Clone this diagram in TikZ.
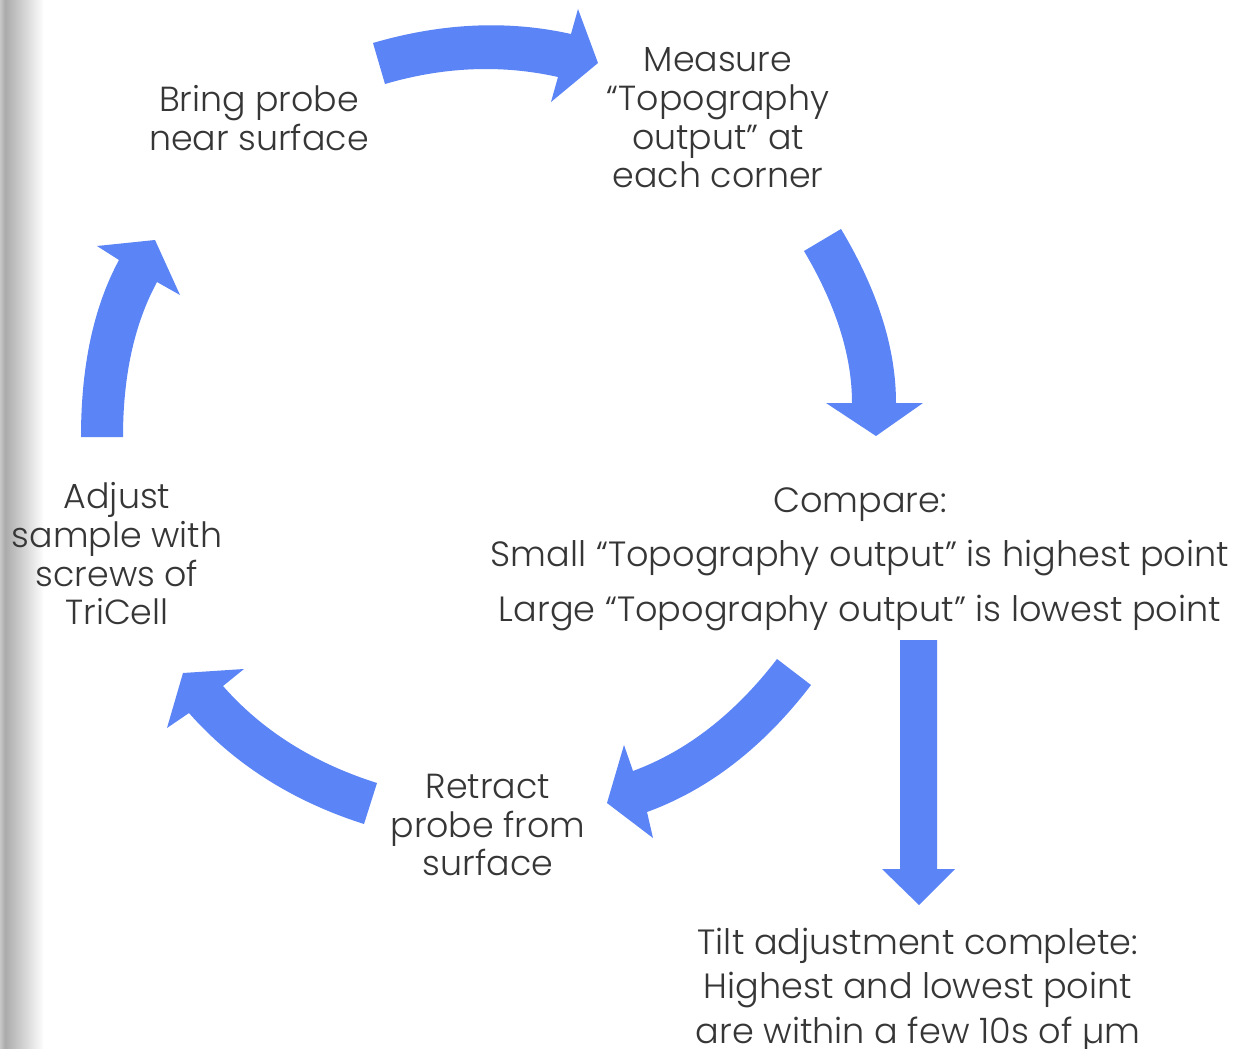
\documentclass[tikz,border=0pt]{standalone}
\usepackage{fontspec}
\setmainfont{Poppins}[UprightFont=* Light]
\definecolor{flow}{HTML}{5B84F6}
\definecolor{ink}{HTML}{363636}
\tikzset{
  blockarrow/.style={fill=flow, draw=none},
  label/.style={text=ink, align=center, inner sep=0pt,
    font=\fontsize{26.1}{29}\selectfont},
}
\begin{document}
\begin{tikzpicture}[x=0.75pt, y=-0.75pt]
\useasboundingbox (0,0) rectangle (1235,1049);
\fill[white] (0,0) rectangle (1235,1049);
% soft page-edge shadow on the left
\shade[left color=black!22, right color=black!33] (0,0) rectangle (5,1049);
\shade[left color=black!33, right color=white] (5,0) rectangle (44,1049);

% step labels
\node[label] (bring) at (259,118) {Bring probe\\near surface};
\node[label] (measure) at (718,118) {Measure\\“Topography\\output” at\\each corner};
\node[label, font=\fontsize{26.3}{41}\selectfont] (compare) at (860,559)
  {Compare:\\Small “Topography output” is highest point\\Large “Topography output” is lowest point};
\node[label] (adjust) at (117,554) {Adjust\\sample with\\screws of\\TriCell};
\node[label] (retract) at (488,825) {Retract\\probe from\\surface};
\node[label, font=\fontsize{26.3}{33.5}\selectfont] (tilt) at (918,990)
  {Tilt adjustment complete:\\Highest and lowest point\\are within a few 10s of µm};

% bring -> measure
\fill[blockarrow] (373,43) .. controls (441.7,22.9) and (507.7,19.9) .. (571,34)
  -- (578,9) -- (598,63) -- (551,102) -- (558,77)
  .. controls (501.7,64.4) and (444,66.7) .. (385,84) -- cycle;
% measure -> compare
\fill[blockarrow] (841,229) .. controls (877.7,290.3) and (896,348.3) .. (896,403)
  -- (923,403) -- (876,436) -- (826,403) -- (852,403)
  .. controls (852,355.7) and (836,305) .. (804,251) -- cycle;
% compare -> tilt
\fill[blockarrow] (900,640) -- (937,640) -- (937,869) -- (955,869)
  -- (919,905) -- (882,869) -- (900,869) -- cycle;
% compare -> retract
\fill[blockarrow] (777,659) .. controls (735,713.7) and (687,751) .. (633,771)
  -- (624,745) -- (607,803) -- (653,838) -- (647,812)
  .. controls (708.9,789.4) and (763.5,747.1) .. (811,685) -- cycle;
% retract -> adjust
\fill[blockarrow] (377,783) .. controls (313.7,763) and (262.3,730.7) .. (223,686)
  -- (244,669) -- (183,673) -- (167,728) -- (189,713)
  .. controls (234.3,764.3) and (292.7,801.3) .. (364,824) -- cycle;
% adjust -> bring
\fill[blockarrow] (81,437) .. controls (81,365.7) and (93.7,306.7) .. (119,260)
  -- (97,246) -- (155,240) -- (180,295) -- (157,282)
  .. controls (134.3,324) and (123,375.7) .. (123,437) -- cycle;
\end{tikzpicture}
\end{document}
